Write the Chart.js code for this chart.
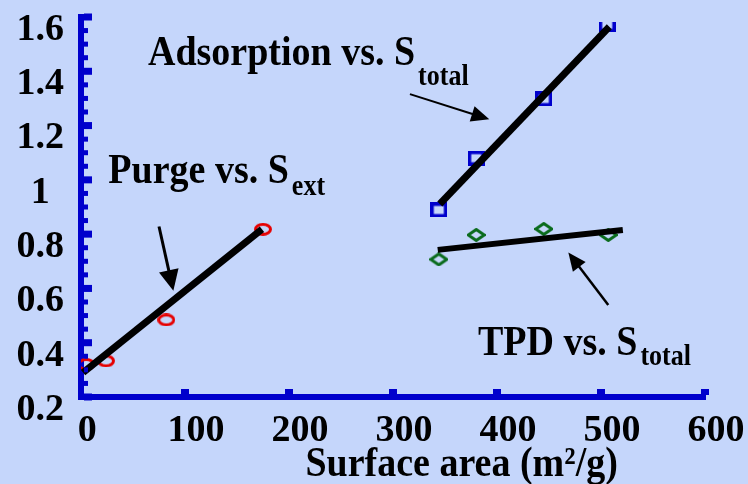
<!DOCTYPE html>
<html><head><meta charset="utf-8">
<script src="https://cdn.jsdelivr.net/npm/chart.js@4/dist/chart.umd.min.js"></script>
<style>html,body{margin:0;padding:0;background:#c5d6fb;overflow:hidden}canvas{display:block}</style>
</head><body>
<canvas id="c" width="748" height="484"></canvas>
<script>
// ---- data ----
const purgeX = [5, 24, 82, 175];
const purgeY = [0.320, 0.333, 0.484, 0.818];
const adsX = [344, 380, 445, 506];
const adsY = [0.889, 1.080, 1.298, 1.571];
const tpdX = [344, 380, 445, 507];
const tpdY = [0.707, 0.797, 0.819, 0.797];
const purgeFitX = [2, 174];
const purgeFitY = [0.290, 0.818];
const adsFitX = [345, 508];
const adsFitY = [0.911, 1.564];
const tpdFitX = [343, 521];
const tpdFitY = [0.742, 0.815];
const xTicks = [0, 100, 200, 300, 400, 500, 600];
const xTickLabels = ['0', '100', '200', '300', '400', '500', '600'];
const yTicks = [0.2, 0.4, 0.6, 0.8, 1.0, 1.2, 1.4, 1.6];
const yTickLabels = ['0.2', '0.4', '0.6', '0.8', '1', '1.2', '1.4', '1.6'];
const xTitle = 'Surface area (m\u00B2/g)';
const labelTexts = [
  {main: 'Adsorption vs. S', sub: 'total'},
  {main: 'Purge vs. S', sub: 'ext'},
  {main: 'TPD vs. S', sub: 'total'}
];

// ---- styling / placement ----
const BG = '#c5d6fb';
const AXIS = '#0000cc';
const FONT = '"Liberation Serif", "Times New Roman", serif';
const STRETCH = 1.1;
const labelPlace = [
  {x: 64.4, y: 1.423, subDy: 20},
  {x: 26.3, y: 0.987, subDy: 12},
  {x: 381.7, y: 0.355, subDy: 10}
];
const arrows = [
  {x1: 316.3, y1: 1.316, x2: 392.6, y2: 1.223, w: 2, hl: 18, hw: 8},
  {x1: 75, y1: 0.828, x2: 88.8, y2: 0.591, w: 3, hl: 21, hw: 10},
  {x1: 507, y1: 0.539, x2: 468.6, y2: 0.732, w: 2.5, hl: 18, hw: 8}
];

function pts(xs, ys) { return xs.map((x, i) => ({x: x, y: ys[i]})); }

function ellipseImg(w, h, lw, color) {
  const c = document.createElement('canvas'); c.width = w; c.height = h;
  const g = c.getContext('2d'); g.strokeStyle = color; g.lineWidth = lw;
  g.beginPath(); g.ellipse(w / 2, h / 2, w / 2 - lw / 2, h / 2 - lw / 2, 0, 0, Math.PI * 2); g.stroke();
  return c;
}
function squareImg(w, h, lw, color) {
  const c = document.createElement('canvas'); c.width = w; c.height = h;
  const g = c.getContext('2d'); g.strokeStyle = color; g.lineWidth = lw;
  g.strokeRect(lw / 2, lw / 2, w - lw, h - lw);
  return c;
}
function diamondImg(w, h, lw, color) {
  const c = document.createElement('canvas'); c.width = w; c.height = h;
  const g = c.getContext('2d'); g.strokeStyle = color; g.lineWidth = lw; g.lineJoin = 'miter';
  g.beginPath(); g.moveTo(w / 2, lw / 2); g.lineTo(w - lw / 2, h / 2);
  g.lineTo(w / 2, h - lw / 2); g.lineTo(lw / 2, h / 2); g.closePath(); g.stroke();
  return c;
}

function stretchedText(ctx, text, x, y) {
  ctx.save(); ctx.translate(x, y); ctx.scale(1, STRETCH); ctx.fillText(text, 0, 0); ctx.restore();
}

const decor = {
  id: 'decor',
  beforeDraw(chart) {
    const ctx = chart.ctx; ctx.save(); ctx.fillStyle = BG;
    ctx.fillRect(0, 0, chart.width, chart.height); ctx.restore();
  },
  afterDraw(chart) {
    const ctx = chart.ctx, xs = chart.scales.x, ys = chart.scales.y;
    const ca = chart.chartArea;
    ctx.save();
    ctx.fillStyle = AXIS;
    // y tick marks (major every 0.2, minor every 0.05), drawn inward
    for (let k = 0; k <= 28; k++) {
      const v = 0.2 + k * 0.05;
      const py = ys.getPixelForValue(v);
      const major = k % 4 === 0;
      const h = major ? 7 : 5;
      const right = major ? 92 : 88;
      ctx.fillRect(ca.left + 3, py - h / 2, right - (ca.left + 3), h);
    }
    // x tick marks
    xTicks.forEach(v => {
      if (v === 0) return;
      const px = xs.getPixelForValue(v);
      ctx.fillRect(px - 4, ca.bottom - 8, 8, 6);
    });
    ctx.fillStyle = '#000';
    ctx.strokeStyle = '#000';
    // arrows
    arrows.forEach(a => {
      const x1 = xs.getPixelForValue(a.x1), y1 = ys.getPixelForValue(a.y1);
      const x2 = xs.getPixelForValue(a.x2), y2 = ys.getPixelForValue(a.y2);
      const ang = Math.atan2(y2 - y1, x2 - x1);
      const bx = x2 - Math.cos(ang) * a.hl, by = y2 - Math.sin(ang) * a.hl;
      ctx.lineWidth = a.w; ctx.lineCap = 'butt';
      ctx.beginPath(); ctx.moveTo(x1, y1); ctx.lineTo(bx + Math.cos(ang) * 2, by + Math.sin(ang) * 2); ctx.stroke();
      const nx = -Math.sin(ang), ny = Math.cos(ang);
      ctx.beginPath(); ctx.moveTo(x2, y2);
      ctx.lineTo(bx + nx * a.hw, by + ny * a.hw);
      ctx.lineTo(bx - nx * a.hw, by - ny * a.hw);
      ctx.closePath(); ctx.fill();
    });
    // text labels with subscripts
    ctx.textBaseline = 'alphabetic'; ctx.textAlign = 'left';
    labelTexts.forEach((t, i) => {
      const p = labelPlace[i];
      const px = xs.getPixelForValue(p.x), py = ys.getPixelForValue(p.y);
      ctx.font = 'bold 38px ' + FONT;
      stretchedText(ctx, t.main, px, py);
      const w = ctx.measureText(t.main).width;
      ctx.font = 'bold 26px ' + FONT;
      stretchedText(ctx, t.sub, px + w + 3, py + p.subDy);
    });
    // x axis title
    ctx.font = 'bold 38px ' + FONT; ctx.textAlign = 'center';
    stretchedText(ctx, xTitle, xs.getPixelForValue(366), xs.top + 79);
    ctx.restore();
  }
};

const tickFont = {family: FONT, size: 38, weight: 'bold'};

new Chart(document.getElementById('c'), {
  type: 'line',
  data: {
    datasets: [
      {data: pts(purgeFitX, purgeFitY), borderColor: '#000', borderWidth: 7, pointRadius: 0, borderCapStyle: 'butt', order: 0},
      {data: pts(adsFitX, adsFitY), borderColor: '#000', borderWidth: 7, pointRadius: 0, borderCapStyle: 'butt', order: 0},
      {data: pts(tpdFitX, tpdFitY), borderColor: '#000', borderWidth: 6, pointRadius: 0, borderCapStyle: 'butt', order: 0},
      {data: pts(purgeX, purgeY), showLine: false, pointStyle: ellipseImg(18, 13, 3, '#e60000'), pointRadius: 8, order: 1},
      {data: pts(adsX, adsY), showLine: false, pointStyle: squareImg(17, 15, 3.5, AXIS), pointRadius: 8, order: 1,
       clip: {left: 10, top: -5, right: 10, bottom: 10}},
      {data: pts(tpdX, tpdY), showLine: false, pointStyle: diamondImg(19, 14, 3, '#0a6b1c'), pointRadius: 8, order: 1}
    ]
  },
  options: {
    responsive: false,
    devicePixelRatio: 1,
    animation: false,
    layout: {padding: {top: 17, right: 43, bottom: 0, left: 0}},
    plugins: {legend: {display: false}, tooltip: {enabled: false}},
    scales: {
      x: {
        type: 'linear', min: 0, max: 600,
        grid: {display: false, drawTicks: false},
        border: {display: true, color: AXIS, width: 6},
        ticks: {font: tickFont, color: '#000', padding: 11, labelOffset: 11, maxRotation: 0, autoSkip: false,
          callback: (v, i) => i === 0 ? xTickLabels[0] + ' ' : xTickLabels[i]},
        afterBuildTicks: s => { s.ticks = xTicks.map(v => ({value: v})); },
        afterFit: s => { s.height = 87; s.paddingLeft = 0; s.paddingRight = 0; }
      },
      y: {
        type: 'linear', min: 0.2, max: 1.6,
        grid: {display: false, drawTicks: false},
        border: {display: true, color: AXIS, width: 6},
        ticks: {font: tickFont, color: '#000', padding: 17, crossAlign: 'center', labelOffset: 13, autoSkip: false,
          callback: (v, i) => yTickLabels[i]},
        afterBuildTicks: s => { s.ticks = yTicks.map(v => ({value: v})); },
        afterFit: s => { s.width = 81; s.paddingTop = 0; s.paddingBottom = 0; }
      }
    }
  },
  plugins: [decor]
});
</script>
</body></html>
